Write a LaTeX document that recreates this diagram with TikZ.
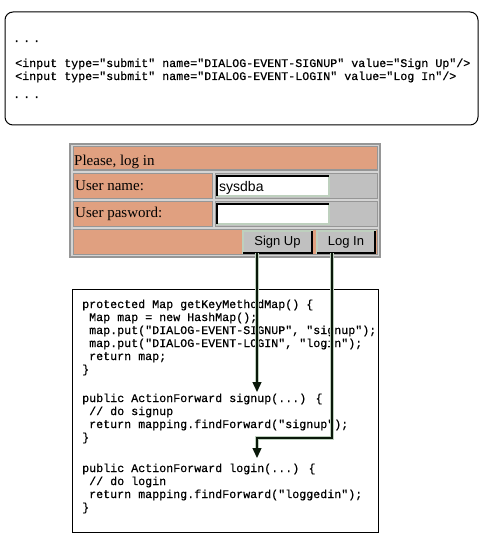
\documentclass[tikz,border=0pt]{standalone}
\usepackage{fontspec}
\setmainfont{Liberation Serif}
\setsansfont{Liberation Sans}
\newfontfamily\codefont[FakeBold=0.6]{Liberation Mono}
\usetikzlibrary{arrows.meta}

\definecolor{salmon}{RGB}{224,160,128}
\definecolor{cellgray}{RGB}{192,192,192}
\definecolor{tablegray}{RGB}{212,212,212}
\definecolor{edgegray}{RGB}{150,150,150}
\definecolor{palegreen}{RGB}{190,208,190}
\definecolor{wiregreen}{RGB}{10,24,10}

\tikzset{
	box/.style={anchor=north west, inner sep=0pt, outer sep=0pt},
	panel/.style={box, draw=black, line width=1pt},
	cell/.style={box, draw=edgegray, line width=1pt},
	field/.style={box, fill=white, draw=palegreen, line width=1.5pt},
	button/.style={box, fill=cellgray, draw=palegreen, line width=1.5pt,
		font=\sffamily\fontsize{13}{15}\selectfont},
	code/.style={anchor=base west, inner sep=0pt,
		font=\codefont\fontsize{11.67}{13}\selectfont},
	formtext/.style={anchor=base west, inner sep=0pt,
		font=\rmfamily\fontsize{15}{17}\selectfont},
	fieldtext/.style={anchor=base west, inner sep=0pt,
		font=\sffamily\fontsize{14}{16}\selectfont},
	wire/.style={draw=wiregreen, line width=1.3pt,
		-{Triangle[width=9pt,length=10pt]},
		preaction={draw=palegreen, line width=3.2pt, -, shorten >=9pt}}
}

\begin{document}
\begin{tikzpicture}[x=1pt,y=-1pt]
	\useasboundingbox (0,0) rectangle (485,540);

	% html source
	\node[panel, rounded corners=8pt, minimum width=473pt, minimum height=113pt] (html) at (5,12) {};
	\node[code] (dots1) at (13,42) {.\hspace{3pt}.\hspace{3pt}.};
	\node[code] (in1) at (15,67) {<input type="submit" name="DIALOG-EVENT-SIGNUP" value="Sign Up"/>};
	\node[code] (in2) at (15,80) {<input type="submit" name="DIALOG-EVENT-LOGIN" value="Log In"/>};
	\node[code] (dots2) at (13,98) {.\hspace{3pt}.\hspace{3pt}.};

	% login form
	\node[box, fill=tablegray, draw=edgegray, line width=2pt, minimum width=310pt, minimum height=113pt] (form) at (70,144) {};

	\node[cell, fill=salmon, minimum width=304pt, minimum height=23pt] (header) at (73,147) {};
	\node[cell, fill=salmon, minimum width=139pt, minimum height=25pt] (namelabel) at (73,173) {};
	\node[cell, fill=cellgray, minimum width=162pt, minimum height=25pt] (namecell) at (215,173) {};
	\node[cell, fill=salmon, minimum width=139pt, minimum height=25pt] (pwdlabel) at (73,201) {};
	\node[cell, fill=cellgray, minimum width=162pt, minimum height=25pt] (pwdcell) at (215,201) {};
	\node[cell, fill=salmon, minimum width=304pt, minimum height=25pt] (btnrow) at (73,229) {};

	\node[field, minimum width=112pt, minimum height=20pt] (namefield) at (217,176) {};
	\node[field, minimum width=112pt, minimum height=20pt] (pwdfield) at (217,204) {};
	\draw[line width=1.5pt] (namefield.south west) |- (namefield.north east);
	\draw[line width=1.5pt] (pwdfield.south west) |- (pwdfield.north east);

	\node[button, minimum width=69pt, minimum height=22pt] (signup) at (243,231) {Sign Up};
	\node[button, minimum width=58pt, minimum height=22pt] (login) at (317,231) {Log In};
	\draw[line width=1.5pt] (signup.south west) -| (signup.north east);
	\draw[line width=1.5pt] (login.south west) -| (login.north east);

	\node[formtext] (please) at (74,165) {Please, log in};
	\node[formtext] (username) at (75,190) {User name:};
	\node[formtext] (userpwd) at (75,217) {User pasword:};
	\node[fieldtext] (sysdba) at (219,191) {sysdba};

	% java source
	\node[panel, minimum width=306pt, minimum height=243pt] (java) at (72,289) {};

	\node[code] (c1) at (82,308) {protected Map getKeyMethodMap() \{};
	\node[code] (c2) at (89,321) {Map map = new HashMap();};
	\node[code] (c3) at (89,334) {map.put("DIALOG-EVENT-SIGNUP", "signup");};
	\node[code] (c4) at (89,347) {map.put("DIALOG-EVENT-LOGIN", "login");};
	\node[code] (c5) at (89,360) {return map;};
	\node[code] (c6) at (82,373) {\}};

	\node[code] (c7) at (82,402) {public ActionForward signup(...) \{};
	\node[code] (c8) at (89,415) {// do signup};
	\node[code] (c9) at (89,428) {return mapping.findForward("signup");};
	\node[code] (c10) at (82,441) {\}};

	\node[code] (c11) at (82,472) {public ActionForward login(...) \{};
	\node[code] (c12) at (89,485) {// do login};
	\node[code] (c13) at (89,498) {return mapping.findForward("loggedin");};
	\node[code] (c14) at (82,511) {\}};

	% dispatch
	\coordinate (SUout) at ([xshift=14pt]signup.south west);
	\coordinate (SUtip) at (257,392);
	\coordinate (LIout) at ([xshift=15pt]login.south west);
	\coordinate (LIbend) at (332,438);
	\coordinate (LItip) at (257,458);

	\draw[wire] (SUout) -- (SUtip);
	\draw[wire] (LIout) -- (LIbend) -| (LItip);
\end{tikzpicture}
\end{document}
